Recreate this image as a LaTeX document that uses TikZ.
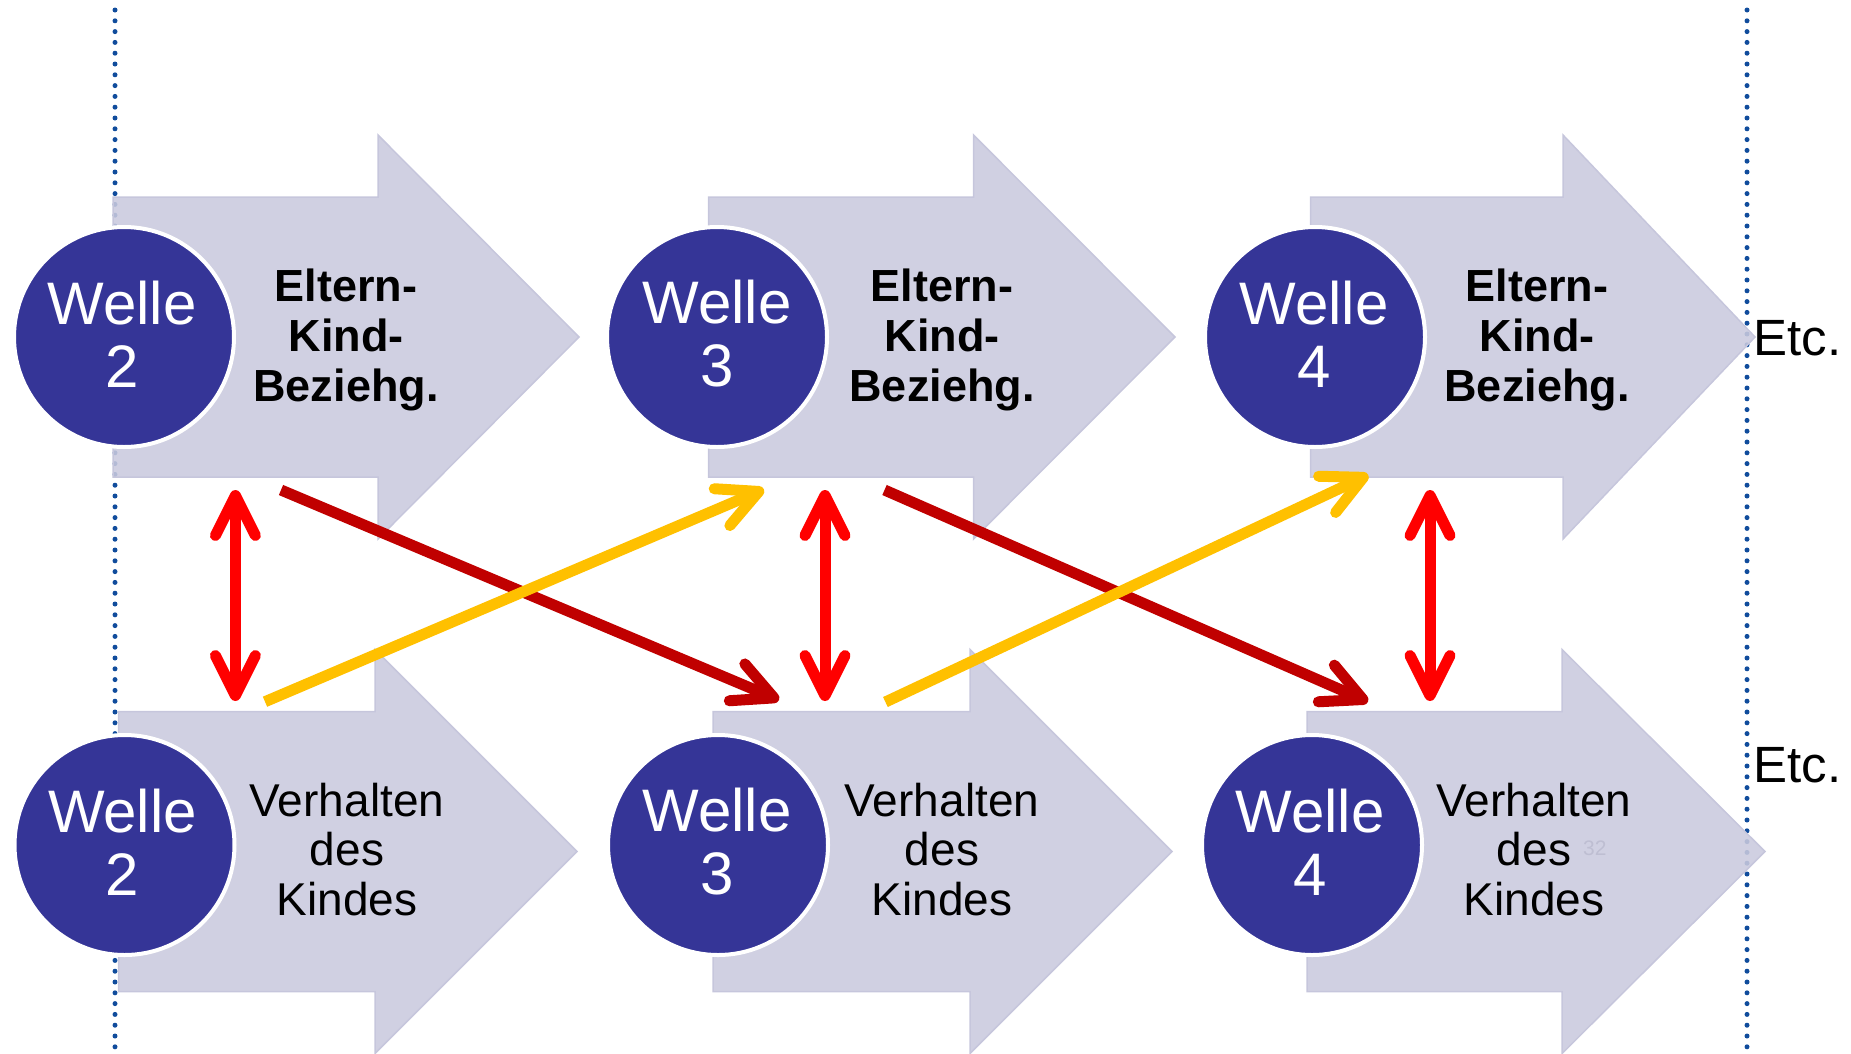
\documentclass[tikz,border=0pt]{standalone}
\usepackage{fontspec}
\setmainfont{Liberation Sans}
\usetikzlibrary{arrows.meta}
\definecolor{bigarrow}{RGB}{202,202,222}
\definecolor{bigarrowline}{RGB}{198,198,220}
\definecolor{wellefill}{RGB}{53,53,151}
\definecolor{guideblue}{RGB}{16,76,156}
\definecolor{pagenum}{RGB}{190,190,210}
\definecolor{linkred}{RGB}{255,0,0}
\definecolor{linkdark}{RGB}{192,0,0}
\definecolor{linkyellow}{RGB}{255,192,0}
\newcommand{\bigArrow}[4]{%
  \draw[bigarr] (#1,#4-140) -- (#2,#4-140) -- (#2,#4-202) -- (#3,#4) -- (#2,#4+202) -- (#2,#4+140) -- (#1,#4+140) -- cycle;}
\begin{document}
\begin{tikzpicture}[x=1pt,y=-1pt,
  guide/.style={guideblue, line width=5pt, line cap=round, dash pattern=on 0pt off 10.8pt},
  bigarr/.style={fill=bigarrow, fill opacity=0.88, draw=bigarrowline, line width=1.5pt, line join=miter},
  wcirc/.style={circle, fill=wellefill, draw=white, line width=4pt, minimum size=220pt, inner sep=0pt},
  wtext/.style={text=white, align=center, font=\fontsize{60}{63}\selectfont, inner sep=0pt},
  toptext/.style={align=center, font=\fontsize{45}{50}\selectfont\bfseries, inner sep=0pt},
  bottext/.style={align=center, font=\fontsize{46}{49.7}\selectfont, inner sep=0pt},
  etctext/.style={anchor=base west, font=\fontsize{51}{60}\selectfont, inner sep=0pt},
  tipbarb/.tip={Straight Barb[length=40pt,width=40pt,round]},
  link/.style={line width=11pt, -tipbarb},
  dlink/.style={line width=11pt, tipbarb-tipbarb},
]
\useasboundingbox (0,0) rectangle (1851,1053);
% guide lines
\coordinate (gl1) at (115,10); \coordinate (gl2) at (115,1053);
\coordinate (gr1) at (1747,10); \coordinate (gr2) at (1747,1053);
\draw[guide] (gl1) -- (gl2);
\draw[guide] (gr1) -- (gr2);
% big arrows, top row
\bigArrow{113}{378}{579}{337}
\bigArrow{708.5}{973.5}{1175}{337}
\bigArrow{1310.5}{1563}{1755}{337}
% big arrows, bottom row
\bigArrow{118.6}{375}{577}{851.5}
\bigArrow{713}{970}{1172}{851.5}
\bigArrow{1307}{1562}{1765}{851.5}
% circles
\node[wcirc] (c2t) at (124,337) {};
\node[wcirc] (c3t) at (717,337) {};
\node[wcirc] (c4t) at (1315,337) {};
\node[wcirc] (c2b) at (124.5,845) {};
\node[wcirc] (c3b) at (718,845) {};
\node[wcirc] (c4b) at (1312,845) {};
\node[wtext] (w2t) at (122,334) {Welle\\2};
\node[wtext] (w3t) at (717,334) {Welle\\3};
\node[wtext] (w4t) at (1314,334) {Welle\\4};
\node[wtext] (w2b) at (122.5,842) {Welle\\2};
\node[wtext] (w3b) at (717,842) {Welle\\3};
\node[wtext] (w4b) at (1310,842) {Welle\\4};
% texts
\node[toptext] (e2) at (346,340.3) {Eltern-\\Kind-\\Beziehg.};
\node[toptext] (e3) at (942,340.3) {Eltern-\\Kind-\\Beziehg.};
\node[toptext] (e4) at (1537,340.3) {Eltern-\\Kind-\\Beziehg.};
\node[bottext] (v2) at (347,849.3) {Verhalten\\des\\Kindes};
\node[bottext] (v3) at (942,849.3) {Verhalten\\des\\Kindes};
\node[bottext] (v4) at (1534,849.3) {Verhalten\\des\\Kindes};
\node[etctext] (etc1) at (1753.5,355) {Etc.};
\node[etctext] (etc2) at (1753.5,782) {Etc.};
\node[anchor=base west, font=\fontsize{21}{25}\selectfont, text=pagenum, inner sep=0pt] (pn) at (1583,855) {32};
% connector end points
\coordinate (r1a) at (235.4,490); \coordinate (r1b) at (235.4,701);
\coordinate (r2a) at (825,490);   \coordinate (r2b) at (825,701);
\coordinate (r3a) at (1430,490);  \coordinate (r3b) at (1430,701);
\coordinate (d1a) at (281,490);   \coordinate (d1b) at (779,700);
\coordinate (d2a) at (884.5,490); \coordinate (d2b) at (1368,701.7);
\coordinate (y1a) at (265,701.7); \coordinate (y1b) at (763.9,489.3);
\coordinate (y2a) at (885.4,702); \coordinate (y2b) at (1368.3,475);
% connectors
\draw[dlink, linkred] (r1a) -- (r1b);
\draw[dlink, linkred] (r2a) -- (r2b);
\draw[dlink, linkred] (r3a) -- (r3b);
\draw[link, linkdark] (d1a) -- (d1b);
\draw[link, linkdark] (d2a) -- (d2b);
\draw[link, linkyellow] (y1a) -- (y1b);
\draw[link, linkyellow] (y2a) -- (y2b);
\end{tikzpicture}
\end{document}
